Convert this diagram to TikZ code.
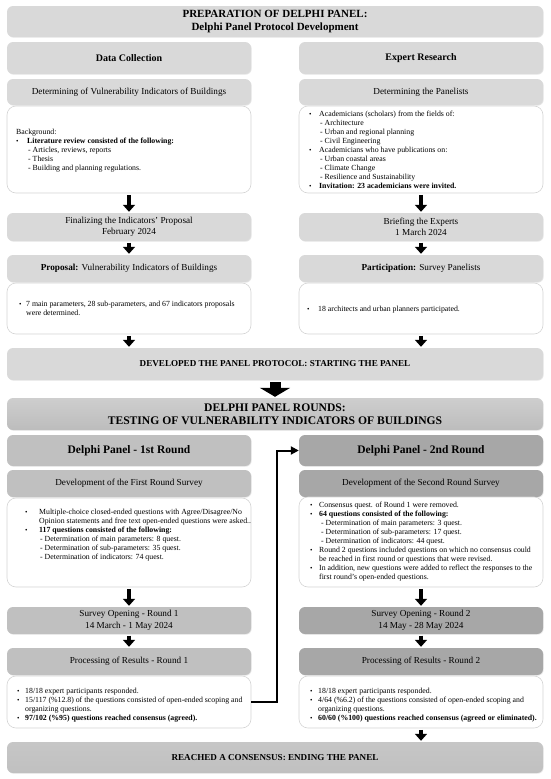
\documentclass[tikz,border=0pt]{standalone}
\usepackage{fontspec}
\setmainfont{Liberation Serif}
\usetikzlibrary{arrows.meta,shadows}

\definecolor{greyA}{HTML}{D9D9D9}
\definecolor{greyB}{HTML}{C0C0C0}
\definecolor{greyC}{HTML}{A7A7A7}
\definecolor{edgegrey}{HTML}{D4D4D4}

\newcommand{\bul}[1]{\makebox[#1][l]{\scalebox{0.9}{\textbullet}}}
\newcommand{\ind}[1]{\hspace*{#1}}

\tikzset{
  box/.style={rounded corners=6pt, inner sep=0pt, align=center, minimum width=244pt,
    drop shadow={shadow xshift=0.7pt, shadow yshift=-0.7pt, opacity=0.2}},
  wide/.style={box, minimum width=536pt},
  whitebox/.style={rounded corners=9pt, draw=edgegrey, fill=white, line width=0.6pt,
    minimum width=244pt, inner sep=0pt},
  bodytext/.style={font=\fontsize{7.8}{9.1}\selectfont, align=left, inner sep=0pt, anchor=north west},
  bigtitle/.style={font=\bfseries\fontsize{11}{13.5}\selectfont},
  head/.style={font=\bfseries\fontsize{10}{12}\selectfont},
  roundhead/.style={font=\bfseries\fontsize{11.5}{13}\selectfont},
  sub/.style={font=\fontsize{9.2}{11.5}\selectfont},
  banner/.style={font=\bfseries\fontsize{9.1}{11}\selectfont},
  smallarrow/.style={line width=4.5pt, -{Triangle[width=12pt,length=7pt]}, shorten <=1.5pt, shorten >=1pt},
  bigarrow/.style={line width=11pt, -{Triangle[width=30pt,length=9pt]}, shorten <=2pt, shorten >=1pt},
  link/.style={line width=2pt, -{Triangle[width=8pt,length=8pt]}}
}

\begin{document}
\begin{tikzpicture}[x=1pt,y=-1pt]
\useasboundingbox (0,0) rectangle (550,779);
% preparation
\node[wide, fill=greyA, minimum height=31pt, bigtitle] (prep) at (275,21.5) {PREPARATION OF DELPHI PANEL:\\Delphi Panel Protocol Development};
\node[box, fill=greyA, minimum height=32pt, head] (data) at (129,58) {Data Collection};
\node[box, fill=greyA, minimum height=32pt, head] (expert) at (421,58) {Expert Research};
\node[box, fill=greyA, minimum height=26pt, sub] (detL) at (129,92) {Determining of Vulnerability Indicators of Buildings};
\node[box, fill=greyA, minimum height=26pt, sub] (detR) at (421,92) {Determining the Panelists};
\node[whitebox, minimum height=87pt] (litL) at (129,149.5) {};
\node[whitebox, minimum height=87pt] (litR) at (421,149.5) {};
\node[bodytext] (litLtxt) at (16,128.5) {Background:\\
  \bul{11pt}\textbf{Literature review consisted of the following:}\\
  \ind{12pt}- Articles, reviews, reports\\
  \ind{12pt}- Thesis\\
  \ind{12pt}- Building and planning regulations.};
\node[bodytext] (litRtxt) at (309,110.5) {\bul{10pt}Academicians (scholars) from the fields of:\\
  \ind{11pt}- Architecture\\
  \ind{11pt}- Urban and regional planning\\
  \ind{11pt}- Civil Engineering\\
  \bul{10pt}Academicians who have publications on:\\
  \ind{11pt}- Urban coastal areas\\
  \ind{11pt}- Climate Change\\
  \ind{11pt}- Resilience and Sustainability\\
  \bul{10pt}\textbf{Invitation: 23 academicians were invited.}};
\node[box, fill=greyA, minimum height=28pt, sub] (finL) at (129,227) {Finalizing the Indicators’ Proposal\\February 2024};
\node[box, fill=greyA, minimum height=28pt, sub] (brief) at (421,227) {Briefing the Experts\\1 March 2024};
\node[box, fill=greyA, minimum height=27pt, sub] (prop) at (129,268.5) {\textbf{Proposal:} Vulnerability Indicators of Buildings};
\node[box, fill=greyA, minimum height=27pt, sub] (part) at (421,268.5) {\textbf{Participation:} Survey Panelists};
\node[whitebox, minimum height=51pt] (resL) at (129,308.5) {};
\node[whitebox, minimum height=51pt] (resR) at (421,308.5) {};
\node[bodytext] (resLtxt) at (19,300.5) {\bul{7pt}7 main parameters, 28 sub-parameters, and 67 indicators proposals\\
  \ind{7pt}were determined.};
\node[bodytext] (resRtxt) at (307,305.5) {\bul{11pt}18 architects and urban planners participated.};
\draw[smallarrow] (litL.south) -- (finL.north);
\draw[smallarrow] (litR.south) -- (brief.north);
\draw[smallarrow] (finL.south) -- (prop.north);
\draw[smallarrow] (brief.south) -- (part.north);
% panel protocol
\node[wide, fill=greyA, minimum height=32pt, banner] (devel) at (275,364) {DEVELOPED THE PANEL PROTOCOL: STARTING THE PANEL};
\draw[smallarrow] (resL.south) -- (resL.south |- devel.north);
\draw[smallarrow] (resR.south) -- (resR.south |- devel.north);
% rounds
\node[wide, top color=greyA!95!black, bottom color=greyB!98!black, minimum height=32pt, font=\bfseries\fontsize{11.6}{13.5}\selectfont] (rounds) at (275,414) {DELPHI PANEL ROUNDS:\\TESTING OF VULNERABILITY INDICATORS OF BUILDINGS};
\draw[bigarrow] (devel.south) -- (rounds.north);
\node[box, fill=greyB, minimum height=31pt, roundhead] (r1) at (129,450.5) {Delphi Panel - 1st Round};
\node[box, fill=greyC, minimum height=31pt, roundhead] (r2) at (421,450.5) {Delphi Panel - 2nd Round};
\node[box, fill=greyB, minimum height=27pt, sub] (dev1) at (129,483.5) {Development of the First Round Survey};
\node[box, fill=greyC, minimum height=27pt, sub] (dev2) at (421,483.5) {Development of the Second Round Survey};
\node[whitebox, minimum height=89pt] (q1) at (129,542.5) {};
\node[whitebox, minimum height=90pt] (q2) at (421,542) {};
\node[bodytext] (q1txt) at (25,508.5) {\bul{14pt}Multiple-choice closed-ended questions with Agree/Disagree/No\\
  \ind{14pt}Opinion statements and free text open-ended questions were asked..\\
  \bul{14pt}\textbf{117 questions consisted of the following:}\\
  \ind{15pt}- Determination of main parameters: 8 quest.\\
  \ind{15pt}- Determination of sub-parameters: 35 quest.\\
  \ind{15pt}- Determination of indicators: 74 quest.};
\node[bodytext] (q2txt) at (310,501.5) {\bul{9pt}Consensus quest. of Round 1 were removed.\\
  \bul{9pt}\textbf{64 questions consisted of the following:}\\
  \ind{11pt}- Determination of main parameters: 3 quest.\\
  \ind{11pt}- Determination of sub-parameters: 17 quest.\\
  \ind{11pt}- Determination of indicators: 44 quest.\\
  \bul{9pt}Round 2 questions included questions on which no consensus could\\
  \ind{9pt}be reached in first round or questions that were revised.\\
  \bul{9pt}In addition, new questions were added to reflect the responses to the\\
  \ind{9pt}first round's open-ended questions.};
\node[box, fill=greyB, minimum height=27pt, sub] (open1) at (129,620.5) {Survey Opening - Round 1\\14 March - 1 May 2024};
\node[box, fill=greyC, minimum height=27pt, sub] (open2) at (421,620.5) {Survey Opening - Round 2\\14 May - 28 May 2024};
\node[box, fill=greyB, minimum height=27pt, sub] (proc1) at (129,661.5) {Processing of Results - Round 1};
\node[box, fill=greyC, minimum height=27pt, sub] (proc2) at (421,661.5) {Processing of Results - Round 2};
\node[whitebox, minimum height=52pt] (out1) at (129,702) {};
\node[whitebox, minimum height=52pt] (out2) at (421,702) {};
\node[bodytext] (out1txt) at (17,687.5) {\bul{8pt}18/18 expert participants responded.\\
  \bul{8pt}15/117 (\%12.8) of the questions consisted of open-ended scoping and\\
  \ind{8pt}organizing questions.\\
  \bul{8pt}\textbf{97/102 (\%95) questions reached consensus (agreed).}};
\node[bodytext] (out2txt) at (310,687.5) {\bul{8pt}18/18 expert participants responded.\\
  \bul{8pt}4/64 (\%6.2) of the questions consisted of open-ended scoping and\\
  \ind{8pt}organizing questions.\\
  \bul{8pt}\textbf{60/60 (\%100) questions reached consensus (agreed or eliminated).}};
\draw[smallarrow] (q1.south) -- (open1.north);
\draw[smallarrow] (q2.south) -- (open2.north);
\draw[smallarrow] (open1.south) -- (proc1.north);
\draw[smallarrow] (open2.south) -- (proc2.north);
% round 1 to round 2
\draw[link] (out1.east) -- ++(26,0) |- (r2.west);
% ending
\node[wide, top color=greyB!90!white, bottom color=greyB, minimum height=31pt, banner] (ending) at (275,757.5) {REACHED A CONSENSUS: ENDING THE PANEL};
\draw[smallarrow] (out2.south) -- (out2.south |- ending.north);
\end{tikzpicture}
\end{document}
